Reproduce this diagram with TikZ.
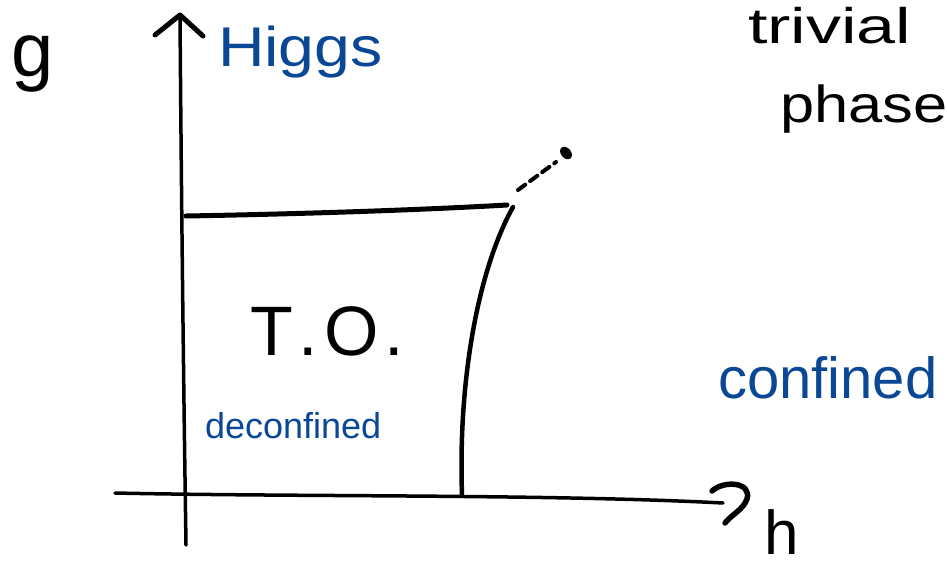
\documentclass[tikz,border=0pt]{standalone}
\usepackage{fontspec}
\setmainfont{Liberation Sans}
\definecolor{inkblue}{RGB}{10,72,150}
\tikzset{
  ink/.style={line width=4pt, line cap=round, line join=round, black},
  lbl/.style={anchor=base west, inner sep=0pt, outer sep=0pt},
  bluelbl/.style={lbl, text=inkblue},
}
\begin{document}
\begin{tikzpicture}[x=1pt,y=-1pt]
\useasboundingbox (0,0) rectangle (947,568);
% axes
\coordinate (yb) at (186,545);
\coordinate (yt) at (180,15);
\coordinate (xl) at (115,493);
\coordinate (xr) at (723,503);
\draw[ink, line width=3.5pt] (yb) .. controls (183,350) and (181,150) .. (yt);
\draw[ink, line width=5pt] (155,35) -- (yt) -- (203,36);
\draw[ink, line width=3.5pt] (xl) .. controls (300,497) and (550,494) .. (xr);
\draw[ink, line width=5.5pt] (712,491) .. controls (724,480) and (752,482) .. (747,499) .. controls (743,510) and (731,515) .. (725,523);
% phase boundaries
\coordinate (c1) at (186,216);
\coordinate (c2) at (507,205);
\coordinate (c3) at (513,207);
\coordinate (c4) at (462,495);
\draw[ink, line width=5pt] (c1) .. controls (300,214) and (420,210) .. (c2);
\draw[ink, line width=4.5pt] (c3) .. controls (478,270) and (458,380) .. (c4);
\coordinate (d1) at (518,190);
\coordinate (d2) at (556,162);
\draw[ink, line width=4pt, dash pattern=on 9pt off 6pt] (d1) -- (d2);
\fill[black, rotate around={40:(566,153)}] (566,153) ellipse [x radius=5pt, y radius=7pt];
% labels
\node[lbl, font=\fontsize{76}{76}\selectfont] (g) at (12,76) {g};
\node[bluelbl, font=\fontsize{56}{56}\selectfont] (higgs) at (218,66) {\scalebox{1.15}[1]{Higgs}};
\node[lbl, font=\fontsize{50}{50}\selectfont] (trivial) at (748,43) {\scalebox{1.4}[1]{trivial}};
\node[lbl, font=\fontsize{52}{52}\selectfont] (phase) at (780,122) {\scalebox{1.18}[1]{phase}};
\node[lbl, font=\fontsize{70}{70}\selectfont] (to) at (250,355) {T\hspace{6pt}.\hspace{6pt}O\hspace{6pt}.};
\node[bluelbl, font=\fontsize{36}{36}\selectfont] (deconf) at (205,438) {deconfined};
\node[bluelbl, font=\fontsize{58}{58}\selectfont] (conf) at (718,398) {confined};
\node[lbl, font=\fontsize{62}{62}\selectfont] (h) at (764,554) {h};
\end{tikzpicture}
\end{document}
